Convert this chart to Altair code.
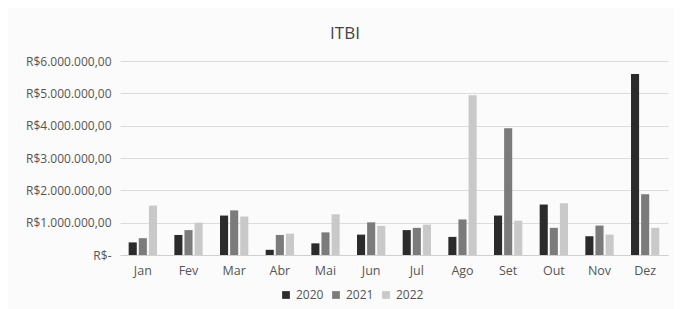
import altair as alt
import pandas as pd

months = ["Jan", "Fev", "Mar", "Abr", "Mai", "Jun", "Jul", "Ago", "Set", "Out", "Nov", "Dez"]
years = ["2020", "2021", "2022"]
v2020 = [390000, 620000, 1220000, 160000, 360000, 630000, 770000, 560000, 1220000, 1560000, 580000, 5600000]
v2021 = [520000, 770000, 1380000, 620000, 700000, 1010000, 840000, 1100000, 3920000, 840000, 910000, 1880000]
v2022 = [1530000, 1000000, 1190000, 660000, 1260000, 900000, 940000, 4940000, 1060000, 1600000, 630000, 840000]
tick_values = [0, 1000000, 2000000, 3000000, 4000000, 5000000, 6000000]
colors = ["#2b2b2b", "#7b7b7b", "#c9c9c9"]

rows = []
for y, vals in zip(years, [v2020, v2021, v2022]):
    for m, v in zip(months, vals):
        rows.append({"Mes": m, "Ano": y, "Valor": v})
df = pd.DataFrame(rows)

font = "Open Sans"
txt = "#555555"

chart = alt.Chart(df).mark_bar().encode(
    x=alt.X("Mes:N", sort=months,
            scale=alt.Scale(paddingInner=0.38, paddingOuter=0.19),
            axis=alt.Axis(title=None, labelAngle=0, ticks=False, domain=True,
                          domainColor="#d0d0d0", labelPadding=9, labelFontSize=12.5,
                          labelFont=font, labelColor=txt)),
    xOffset=alt.XOffset("Ano:N", sort=years, scale=alt.Scale(paddingInner=0.2)),
    y=alt.Y("Valor:Q", scale=alt.Scale(domain=[0, 6000000]),
            axis=alt.Axis(title=None, values=tick_values, labelOverlap=False,
                          labelExpr="datum.value == 0 ? 'R$-' : 'R$' + (datum.value/1000000) + '.000.000,00'",
                          ticks=False, domain=False, gridColor="#dcdcdc", labelPadding=9,
                          labelFontSize=12, labelFont=font, labelColor=txt)),
    color=alt.Color("Ano:N", sort=years, scale=alt.Scale(domain=years, range=colors),
                    legend=alt.Legend(title=None, orient="none", direction="horizontal",
                                      legendX=160, legendY=228, symbolType="square",
                                      symbolSize=60, labelFontSize=12, labelFont=font,
                                      labelColor=txt, columnPadding=6, symbolStrokeWidth=0)),
).properties(
    width=548, height=194,
    title=alt.TitleParams("ITBI", fontSize=17, font=font, fontWeight="normal",
                          color="#444444", anchor="middle", dx=-49, offset=12),
    autosize=alt.AutoSizeParams(type="none"),
    padding={"left": 112, "top": 53, "right": 6, "bottom": 54},
    background="#fbfbfb",
).configure_view(stroke=None)

chart.save("out.html", embed_options={"renderer": "svg", "actions": False})
